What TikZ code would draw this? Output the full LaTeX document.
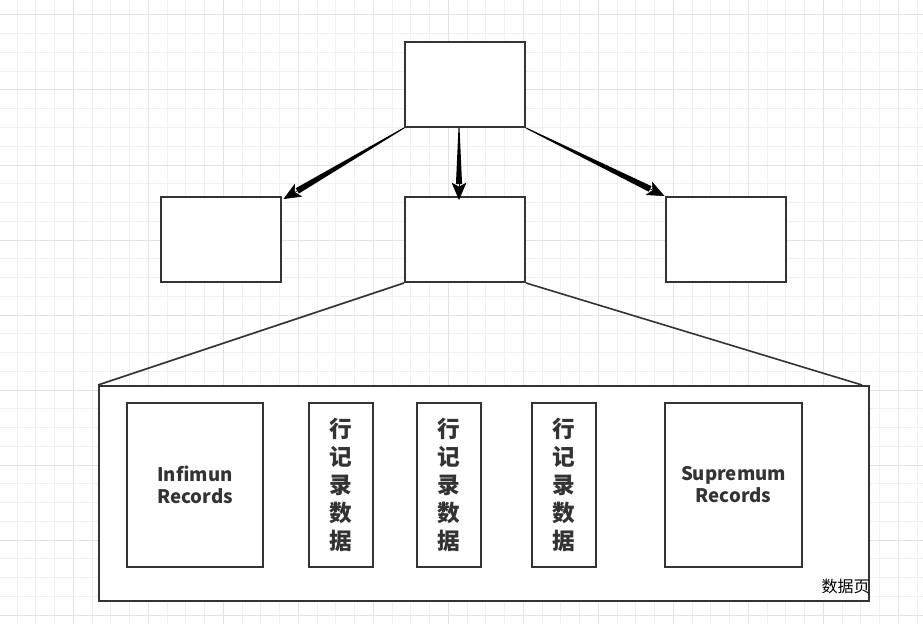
\documentclass[tikz,border=0pt]{standalone}
\usepackage{fontspec}
\setmainfont{Noto Sans CJK SC}
\usepackage{tikz}
\usetikzlibrary{arrows.meta,positioning,calc}

\definecolor{ink}{HTML}{333333}
\definecolor{gridminor}{HTML}{F0F0F0}
\definecolor{gridmajor}{HTML}{E3E3E3}

% tapered black connector, thin at the source
\newcommand\taperarrow[2]{%
  \coordinate (ts) at (#1);
  \coordinate (tt) at (#2);
  \coordinate (te) at ($(tt)!12pt!(ts)$);
  \fill[black] ($(ts)!0.4pt!90:(te)$) -- ($(te)!2.3pt!-90:(ts)$)
    -- ($(te)!2.3pt!90:(ts)$) -- ($(ts)!0.4pt!-90:(te)$) -- cycle;
  \draw[black, line width=0.4pt, -{Stealth[length=13pt,width=11pt,inset=3pt]}] (te) -- (tt);
}

\begin{document}
\begin{tikzpicture}[
    x=0.75pt, y=-0.75pt,
    box/.style={rectangle, draw=ink, line width=1.5pt, fill=white, inner sep=0pt},
    treebox/.style={box, minimum width=90pt, minimum height=63.75pt},
    recbox/.style={box, minimum width=102pt, minimum height=123pt, align=center,
        font=\bfseries\fontsize{14}{16.5}\selectfont, text=ink},
    rowbox/.style={box, minimum width=48pt, minimum height=123pt, align=center,
        font=\bfseries\fontsize{17}{21}\selectfont, text=ink},
    link/.style={draw=ink, line width=1.2pt}
]
    \useasboundingbox (0,0) rectangle (923,624);
    \fill[white] (0,0) rectangle (923,624);
    % background grid
    \foreach \x in {-1.75,17,...,930} \draw[gridminor, line width=0.75pt] (\x,0) -- (\x,624);
    \foreach \y in {-3.75,15,...,630} \draw[gridminor, line width=0.75pt] (0,\y) -- (923,\y);
    \foreach \x in {-1.75,73.25,...,930} \draw[gridmajor, line width=0.75pt] (\x,0) -- (\x,624);
    \foreach \y in {15,90,...,630} \draw[gridmajor, line width=0.75pt] (0,\y) -- (923,\y);

    % index tree
    \node[treebox] (root) at (465,84.5) {};
    \node[treebox] (leftleaf) at (220.5,239.5) {};
    \node[treebox] (midleaf) at (465,239.5) {};
    \node[treebox] (rightleaf) at (725.5,239.5) {};

    \coordinate (rootdown) at ($(root.south)+(-6,0)$);
    \coordinate (midtop) at ($(midleaf.north)+(-6,4)$);
    \taperarrow{root.south west}{$(leftleaf.north east)+(2,3)$}
    \taperarrow{rootdown}{midtop}
    \taperarrow{root.south east}{rightleaf.north west}

    % data page
    \node[box, minimum width=577.5pt, minimum height=161.25pt] (page) at (484,493.5) {};
    \draw[link] (midleaf.south west) -- (page.north west);
    \draw[link] (midleaf.south east) -- ($(page.north east)+(-8,0)$);

    \node[recbox] (infimum) at (195,485) {Infimun\\Records};
    \node[rowbox] (rowa) at (341,485) {行\\记\\录\\数\\据};
    \node[rowbox] (rowb) at (449,485) {行\\记\\录\\数\\据};
    \node[rowbox] (rowc) at (564,485) {行\\记\\录\\数\\据};
    \node[recbox, minimum width=102.75pt] (supremum) at (733.5,485) {Supremum\\Records};

    \node[anchor=base east, inner sep=0pt, font=\fontsize{12}{14}\selectfont, text=black]
        (pagelabel) at (870,592) {数据页};
\end{tikzpicture}
\end{document}
